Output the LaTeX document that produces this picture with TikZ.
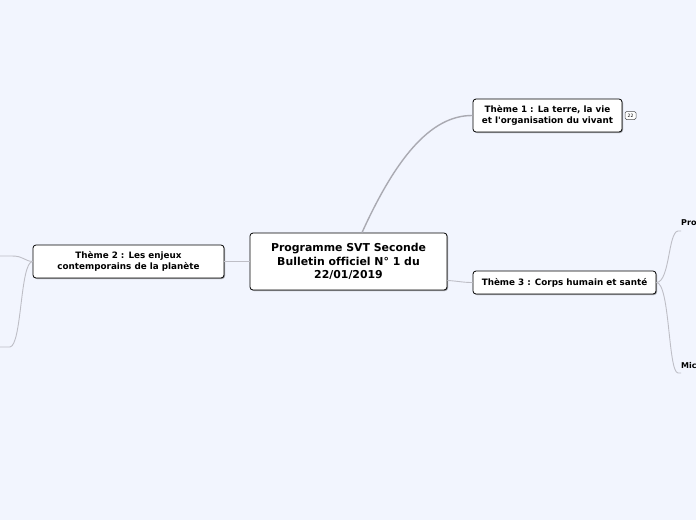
\documentclass[tikz,border=0pt]{standalone}
\usepackage{fontspec}
\setmainfont{DejaVu Sans}[Ligatures={TeXOff,CommonOff}]
\usetikzlibrary{shadows}
\definecolor{bgc}{RGB}{242,245,254}
\definecolor{linec}{RGB}{190,190,198}
\definecolor{linedark}{RGB}{170,170,178}
\tikzset{
  topic/.style={draw=black, line width=0.8pt, fill=white, rounded corners=3pt, align=center,
    inner sep=0pt, font=\bfseries\fontsize{8.8}{11}\selectfont,
    drop shadow={shadow xshift=1pt, shadow yshift=-1pt, opacity=0.35, fill=black}},
  central/.style={topic, font=\bfseries\fontsize{10.9}{13.5}\selectfont},
  conn/.style={draw=linec, line width=0.9pt},
  conndark/.style={draw=linedark, line width=1.4pt},
  leaf/.style={anchor=west, inner sep=0pt, font=\bfseries\fontsize{8}{10}\selectfont},
  badge/.style={draw=black!70, line width=0.5pt, fill=white, rounded corners=1.5pt, inner sep=0pt,
    minimum width=11pt, minimum height=8pt, font=\fontsize{4.5}{5}\selectfont}
}
\begin{document}
\begin{tikzpicture}[x=1pt,y=-1pt]
\fill[bgc] (0,0) rectangle (696,520);
\useasboundingbox (0,0) rectangle (696,520);

\node[central, minimum width=197pt, minimum height=57pt] (c) at (348.5,261.5)
  {Programme SVT Seconde\\Bulletin officiel N° 1 du\\22/01/2019};
\node[topic, minimum width=149pt, minimum height=33pt] (t1) at (547.5,115.5)
  {Thème 1 : La terre, la vie\\et l'organisation du vivant};
\node[badge] (b1) at (630.5,115.5) {22};
\node[topic, minimum width=183pt, minimum height=23pt] (t3) at (564.5,282.5)
  {Thème 3 : Corps humain et santé};
\node[topic, minimum width=191pt, minimum height=33pt] (t2) at (128.5,261.5)
  {Thème 2 : Les enjeux\\contemporains de la planète};

\node[leaf] (p) at (681,223) {Pro};
\node[leaf] (m) at (681,366) {Mic};
\coordinate (l1) at (0,256);
\coordinate (l2) at (0,347);

\draw[conndark] ([xshift=13.5pt]c.north) .. controls (395,160) and (430,115) .. (t1.west);
\draw[conn] (c.west) -- (t2.east);
\draw[conn] ([yshift=-19pt]c.east) .. controls (458,281) and (462,282.5) .. (t3.west);

\draw[conn] (t3.east) .. controls (670,282) and (668,232) .. (678,231) -- (p.west |- 0,231);
\draw[conn] (t3.east) .. controls (670,283) and (668,372) .. (678,373) -- (m.west |- 0,373);

\draw[conn] (t2.west) .. controls (24,261) and (24,256) .. (12,256) -- (l1);
\draw[conn] (t2.west) .. controls (20,262) and (22,345) .. (10,347) -- (l2);
\end{tikzpicture}
\end{document}
